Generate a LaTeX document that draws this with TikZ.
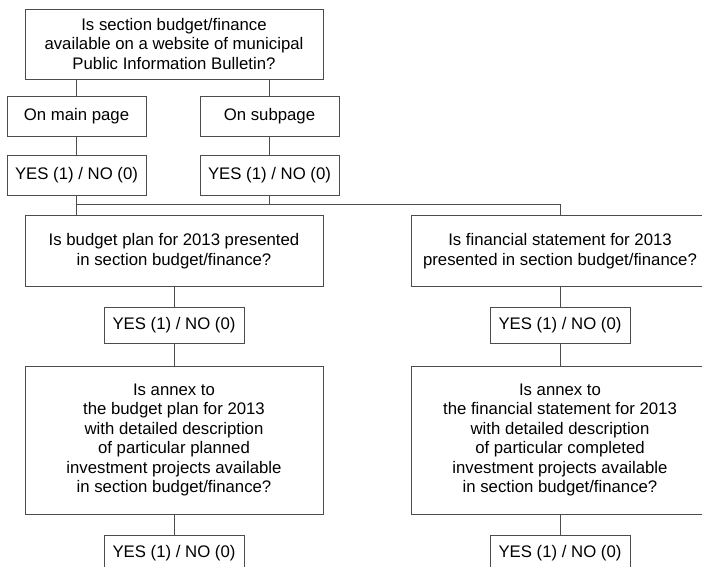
\documentclass[tikz,border=0pt]{standalone}
\usepackage{fontspec}
\setmainfont{Liberation Sans}
\usepackage{tikz}

\begin{document}
\begin{tikzpicture}[x=0.03cm,y=-0.03cm]
    \tikzset{box/.style = {shape=rectangle, draw=black!70, line width=0.75pt, align=center, inner sep=0pt,
        font=\fontsize{14.3}{16.6}\selectfont}}
    \tikzset{wide/.style = {box, minimum width=8.94cm}}
    \tikzset{small/.style = {box, minimum width=4.17cm, minimum height=1.2cm}}
    \tikzset{answer/.style = {box, minimum width=4.2cm, minimum height=1.08cm}}
    \tikzset{edge/.style = {draw=black!70, line width=0.75pt}}

    \useasboundingbox (0,0) rectangle (702,567);
    \clip (0,0) rectangle (702,567);

    % vertices
    \node[wide, minimum height=2.1cm] (q) at (174,44)
        {Is section budget/finance\\available on a website of municipal\\Public Information Bulletin?};
    \node[small] (m) at (76.5,116) {On main page};
    \node[small] (s) at (269.5,116) {On subpage};
    \node[small] (ym) at (76.5,175) {YES (1) / NO (0)};
    \node[small] (ys) at (269.5,175) {YES (1) / NO (0)};
    \coordinate (j) at (76.5,204.5);

    \node[wide, minimum height=2.12cm] (p) at (174,251)
        {Is budget plan for 2013 presented\\in section budget/finance?};
    \node[wide, minimum height=2.12cm] (f) at (560,251)
        {Is financial statement for 2013\\presented in section budget/finance?};
    \node[answer] (yp) at (174,325.5) {YES (1) / NO (0)};
    \node[answer] (yf) at (560,325.5) {YES (1) / NO (0)};

    \node[wide, minimum height=4.44cm] (ap) at (174,440)
        {Is annex to\\the budget plan for 2013\\with detailed description\\of particular planned\\investment projects available\\in section budget/finance?};
    \node[wide, minimum height=4.44cm] (af) at (560,440)
        {Is annex to\\the financial statement for 2013\\with detailed description\\of particular completed\\investment projects available\\in section budget/finance?};
    \node[answer] (yap) at (174,553.5) {YES (1) / NO (0)};
    \node[answer] (yaf) at (560,553.5) {YES (1) / NO (0)};

    % edges
    \draw[edge] (q.south -| m.north) -- (m.north);
    \draw[edge] (q.south -| s.north) -- (s.north);
    \draw[edge] (m) -- (ym);
    \draw[edge] (s) -- (ys);
    \draw[edge] (ym.south) -- (p.north -| ym.south);
    \draw[edge] (ys.south) -- (ys.south |- j);
    \draw[edge] (j) -| (f.north);
    \draw[edge] (p) -- (yp);
    \draw[edge] (f) -- (yf);
    \draw[edge] (yp) -- (ap);
    \draw[edge] (yf) -- (af);
    \draw[edge] (ap) -- (yap);
    \draw[edge] (af) -- (yaf);
\end{tikzpicture}
\end{document}
